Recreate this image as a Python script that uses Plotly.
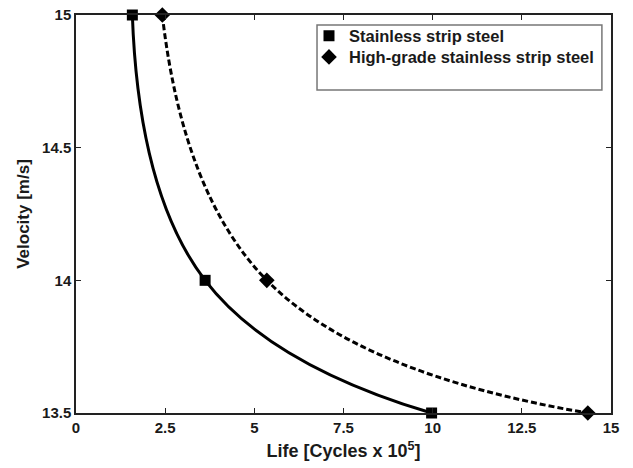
import plotly.graph_objects as go

# Fatigue life vs. strip velocity for two steel grades
velocity = [15.0, 14.0, 13.5]
life_stainless = [1.58, 3.62, 9.97]
life_high_grade = [2.42, 5.35, 14.35]

names = ["Stainless strip steel", "High-grade stainless strip steel"]

x_ticks = [0, 2.5, 5, 7.5, 10, 12.5, 15]
x_tick_text = ["0", "2.5", "5", "7.5", "10", "12.5", "15"]
y_ticks = [13.5, 14, 14.5, 15]
y_tick_text = ["13.5", "14", "14.5", "15"]

font = "Liberation Sans, Arial, sans-serif"
ink = "#1a1a1a"

fig = go.Figure()

# Smooth fitted curves (no legend entries)
fig.add_trace(go.Scatter(
    x=life_stainless, y=velocity, mode="lines",
    line=dict(color="black", width=3, shape="spline", smoothing=1.3),
    showlegend=False, hoverinfo="skip"))
fig.add_trace(go.Scatter(
    x=life_high_grade, y=velocity, mode="lines",
    line=dict(color="black", width=3, dash="6px,3px", shape="spline", smoothing=1.3),
    showlegend=False, hoverinfo="skip"))

# Measured points, each in its own legend so the entries sit tight together
fig.add_trace(go.Scatter(
    x=life_stainless, y=velocity, mode="markers", name=names[0],
    marker=dict(symbol="square", size=11, color="black"), cliponaxis=False,
    legend="legend"))
fig.add_trace(go.Scatter(
    x=life_high_grade, y=velocity, mode="markers", name=names[1],
    marker=dict(symbol="diamond", size=12, color="black"), cliponaxis=False,
    legend="legend2"))

axis_common = dict(
    showline=True, linecolor="#222", linewidth=1.5, mirror="ticks",
    ticks="inside", ticklen=5, tickcolor="#222", tickwidth=1,
    showgrid=False, zeroline=False, automargin=False,
    tickfont=dict(family=font, size=15, color=ink, weight="bold"),
)

fig.update_xaxes(range=[0, 15], tickvals=x_ticks, ticktext=x_tick_text,
                 title=dict(text="Life [Cycles x 10<sup>5</sup>]", standoff=10,
                            font=dict(family=font, size=18, color=ink, weight="bold")),
                 **axis_common)
fig.update_yaxes(range=[13.5, 15], tickvals=y_ticks, ticktext=y_tick_text,
                 title=dict(text="Velocity [m/s]", standoff=8,
                            font=dict(family=font, size=17, color=ink, weight="bold")),
                 **axis_common)

legend_common = dict(
    xanchor="left", yanchor="middle", bgcolor="rgba(0,0,0,0)", borderwidth=0,
    font=dict(family=font, size=16.5, color=ink, weight="bold"), itemwidth=30,
)

fig.update_layout(
    width=633, height=468,
    margin=dict(l=76, r=22, t=15, b=55, autoexpand=False),
    plot_bgcolor="white", paper_bgcolor="white",
    font=dict(family=font, size=13, color=ink),
    legend=dict(x=0.4355, y=0.947, **legend_common),
    legend2=dict(x=0.4355, y=0.894, **legend_common),
    shapes=[dict(type="rect", xref="paper", yref="paper",
                 x0=0.4505, x1=0.983, y0=0.8116, y1=0.975,
                 line=dict(color="#777", width=1.5), fillcolor="white",
                 layer="below")],
)

fig.write_html("out.html")
